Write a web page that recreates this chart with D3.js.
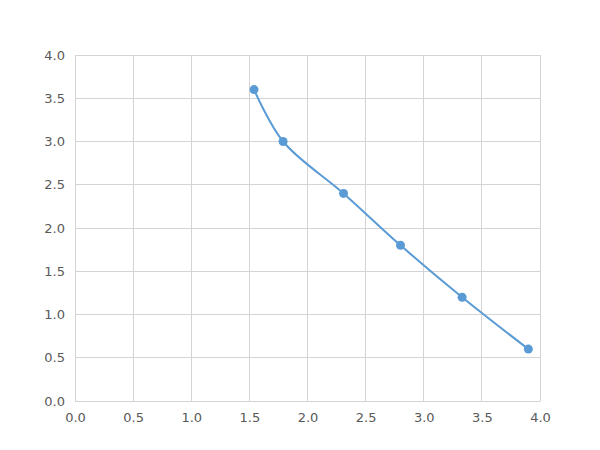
<!DOCTYPE html>
<html>
<head>
<meta charset="UTF-8">
<script src="https://cdnjs.cloudflare.com/ajax/libs/d3/7.8.5/d3.min.js"></script>
<style>
  body { margin: 0; background: #fff; }
  .tick text { fill: #595959; font-family: "DejaVu Sans", sans-serif; font-size: 13px; }
</style>
</head>
<body>
<script>
const xValues = [1.54, 1.79, 2.31, 2.80, 3.33, 3.90];
const yValues = [3.6, 3.0, 2.4, 1.8, 1.2, 0.6];
const xTicks = [0, 0.5, 1, 1.5, 2, 2.5, 3, 3.5, 4];
const yTicks = [0, 0.5, 1, 1.5, 2, 2.5, 3, 3.5, 4];

const width = 600, height = 450;
const marginLeft = 75, marginRight = 60, marginTop = 55, marginBottom = 49;
const gridColor = '#d4d4d4';
const lineColor = '#5b9bd5';

const svg = d3.select('body').append('svg')
  .attr('width', width)
  .attr('height', height);

const x = d3.scaleLinear().domain([0, 4]).range([marginLeft, width - marginRight]);
const y = d3.scaleLinear().domain([0, 4]).range([height - marginBottom, marginTop]);

// сетка
svg.append('g').selectAll('line').data(xTicks).enter().append('line')
  .attr('x1', d => x(d)).attr('x2', d => x(d))
  .attr('y1', y(4)).attr('y2', y(0))
  .attr('stroke', gridColor).attr('shape-rendering', 'crispEdges');
svg.append('g').selectAll('line').data(yTicks).enter().append('line')
  .attr('x1', x(0)).attr('x2', x(4))
  .attr('y1', d => y(d)).attr('y2', d => y(d))
  .attr('stroke', gridColor).attr('shape-rendering', 'crispEdges');

// оси
svg.append('g')
  .attr('transform', 'translate(0,' + y(0) + ')')
  .call(d3.axisBottom(x).tickValues(xTicks).tickFormat(d3.format('.1f')).tickSize(0).tickPadding(12));
svg.append('g')
  .attr('transform', 'translate(' + x(0) + ',0)')
  .call(d3.axisLeft(y).tickValues(yTicks).tickFormat(d3.format('.1f')).tickSize(0).tickPadding(10));
svg.selectAll('.domain').attr('stroke', gridColor);

const points = xValues.map((v, i) => [v, yValues[i]]);

const line = d3.line()
  .x(d => x(d[0]))
  .y(d => y(d[1]))
  .curve(d3.curveCatmullRom.alpha(0.5));

svg.append('path')
  .datum(points)
  .attr('fill', 'none')
  .attr('stroke', lineColor)
  .attr('stroke-width', 2)
  .attr('d', line);

svg.append('g').selectAll('circle').data(points).enter().append('circle')
  .attr('cx', d => x(d[0]))
  .attr('cy', d => y(d[1]))
  .attr('r', 4.5)
  .attr('fill', lineColor);
</script>
</body>
</html>
